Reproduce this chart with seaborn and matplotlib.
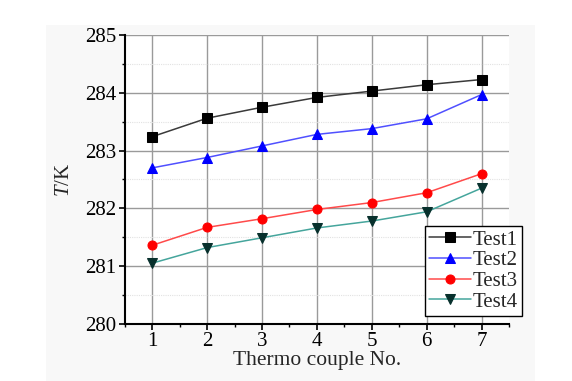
import matplotlib
matplotlib.use("Agg")
import matplotlib.pyplot as plt
import seaborn as sns
import pandas as pd
from matplotlib.ticker import MultipleLocator
from matplotlib.patches import Rectangle

couples = [1, 2, 3, 4, 5, 6, 7]
test1 = [283.24, 283.56, 283.75, 283.92, 284.03, 284.14, 284.23]
test2 = [282.70, 282.88, 283.08, 283.28, 283.38, 283.55, 283.97]
test3 = [281.36, 281.67, 281.82, 281.98, 282.10, 282.27, 282.60]
test4 = [281.05, 281.32, 281.49, 281.66, 281.78, 281.94, 282.35]
series_names = ["Test1", "Test2", "Test3", "Test4"]

df = pd.DataFrame({
    "No": couples * 4,
    "T": test1 + test2 + test3 + test4,
    "Series": sum([[n] * len(couples) for n in series_names], []),
})

sns.set_theme(style="white")
plt.rcParams["font.family"] = ["Liberation Serif", "DejaVu Serif"]
plt.rcParams["mathtext.fontset"] = "custom"
plt.rcParams["mathtext.it"] = "Liberation Serif:italic"
plt.rcParams["mathtext.rm"] = "Liberation Serif"

fig = plt.figure(figsize=(5.72, 3.81), dpi=100, facecolor="white")
fig.patches.append(Rectangle((0.08, 0.0), 0.855, 0.935, transform=fig.transFigure,
                             facecolor="#f8f8f8", edgecolor="none", zorder=-10))
ax = fig.add_axes([0.218, 0.150, 0.672, 0.758])
ax.set_facecolor("white")

line_colors = {"Test1": "#3a3a3a", "Test2": "#5050ff", "Test3": "#ff4a4a", "Test4": "#45a59c"}
marker_colors = {"Test1": "black", "Test2": "blue", "Test3": "red", "Test4": "#07302c"}
markers = {"Test1": "s", "Test2": "^", "Test3": "o", "Test4": "v"}

sns.lineplot(data=df, x="No", y="T", hue="Series", style="Series",
             palette=line_colors, markers=markers, dashes=False,
             markersize=6.5, linewidth=1.1, ax=ax, zorder=3)

for line, name in zip(ax.get_lines(), series_names):
    line.set_markerfacecolor(marker_colors[name])
    line.set_markeredgecolor(marker_colors[name])

ax.set_xlim(0.5, 7.5)
ax.set_ylim(280, 285)
ax.xaxis.set_major_locator(MultipleLocator(1))
ax.xaxis.set_minor_locator(MultipleLocator(0.5))
ax.yaxis.set_major_locator(MultipleLocator(1))
ax.yaxis.set_minor_locator(MultipleLocator(0.5))

ax.grid(which="major", axis="both", color="#9a9a9a", linewidth=1.0, zorder=0)
ax.grid(which="minor", axis="y", color="#e2e2e2", linewidth=0.8, linestyle=(0, (1, 1)), zorder=0)
ax.set_axisbelow(True)

for s in ["top", "right"]:
    ax.spines[s].set_visible(False)
for s in ["left", "bottom"]:
    ax.spines[s].set_color("black")
    ax.spines[s].set_linewidth(1.5)

ax.tick_params(which="major", direction="out", length=4, width=1.2, colors="black",
               labelsize=15, bottom=True, left=True, pad=2)
ax.tick_params(which="minor", direction="out", length=2.5, width=1.0, colors="black",
               bottom=True, left=True)

ax.set_xlabel("Thermo couple No.", fontsize=15.5, labelpad=0)
ax.set_ylabel(r"$T$/K", fontsize=15, labelpad=8)

handles, labels = ax.get_legend_handles_labels()
for h, name in zip(handles, labels):
    if name in marker_colors:
        h.set_markerfacecolor(marker_colors[name])
        h.set_markeredgecolor(marker_colors[name])
leg = ax.legend(handles=handles, labels=labels, loc="lower right",
                bbox_to_anchor=(1.034, 0.028), fontsize=15, frameon=True,
                fancybox=False, edgecolor="black", framealpha=1,
                handlelength=2.0, handletextpad=0.1, borderpad=0.2,
                labelspacing=0.05, borderaxespad=0.0)
leg.get_frame().set_linewidth(1.0)

fig.savefig("out.png", dpi=100, facecolor="white")
